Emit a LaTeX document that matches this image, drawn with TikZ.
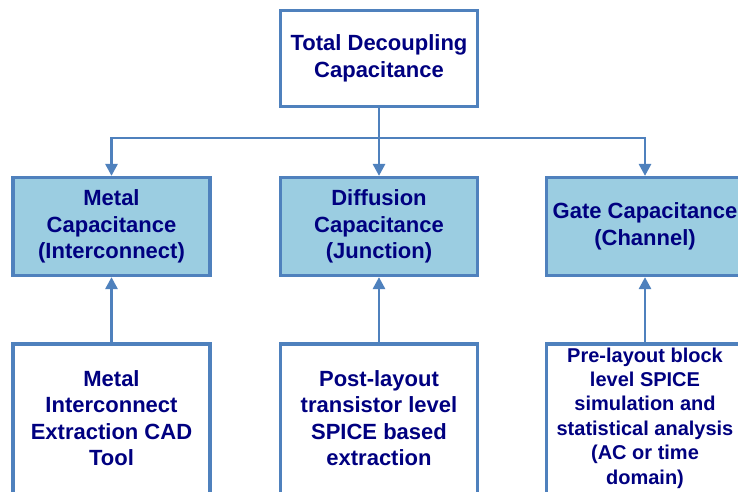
\documentclass[tikz,border=0pt]{standalone}
\usepackage{fontspec}
\setmainfont{Liberation Sans}
\usetikzlibrary{arrows.meta}
\definecolor{boxline}{RGB}{79,129,189}
\definecolor{boxfill}{RGB}{155,205,225}
\definecolor{boxtext}{RGB}{0,0,128}
\tikzstyle{block} = [rectangle, draw=boxline, line width=3.2pt, fill=white,
    text=boxtext, font=\fontsize{22}{26.5}\selectfont\bfseries, align=center,
    inner sep=0pt, minimum width=197pt, minimum height=96pt]
\tikzstyle{capblock} = [block, fill=boxfill, minimum height=98pt]
\tikzstyle{toolblock} = [block, minimum height=172pt]
\tikzstyle{tooltext} = [text=boxtext, font=\fontsize{22}{26.5}\selectfont\bfseries,
    align=center, inner sep=0pt, yshift=12pt]
\tikzstyle{wire} = [draw=boxline, line width=2.8pt, -{Triangle[length=12pt,width=12pt]}]

\begin{document}
\begin{tikzpicture}[x=1pt,y=-1pt]
  \useasboundingbox (0,0) rectangle (738,491);
  \clip (0,0) rectangle (738,491);

  \node[block]    (total)   at (379,58.5)  {Total Decoupling\\Capacitance};

  \node[capblock] (metal)   at (111.5,226.5) {Metal\\Capacitance\\(Interconnect)};
  \node[capblock] (diff)    at (379,226.5)   {Diffusion\\Capacitance\\(Junction)};
  \node[capblock] (gate)    at (645,226.5)   {Gate Capacitance\\(Channel)};

  % tool boxes run off the bottom edge, so their text sits above the centre
  \node[toolblock, label={[tooltext]center:Metal\\Interconnect\\Extraction CAD\\Tool}]
                   (extract) at (111.5,430) {};
  \node[toolblock, label={[tooltext]center:Post-layout\\transistor level\\SPICE based\\extraction}]
                   (postlay) at (379,430)   {};
  \node[toolblock, label={[tooltext, font=\fontsize{20}{24.4}\selectfont\bfseries]center:Pre-layout block\\level SPICE\\simulation and\\statistical analysis\\(AC or time\\domain)}]
                   (prelay)  at (645,430)   {};

  \coordinate (bus) at (379,138);
  \draw[wire] (total.south) -- (diff.north);
  \draw[wire] (bus) -| (metal.north);
  \draw[wire] (bus) -| (gate.north);

  \draw[wire] (extract.north) -- (metal.south);
  \draw[wire] (postlay.north) -- (diff.south);
  \draw[wire] (prelay.north) -- (gate.south);
\end{tikzpicture}
\end{document}
